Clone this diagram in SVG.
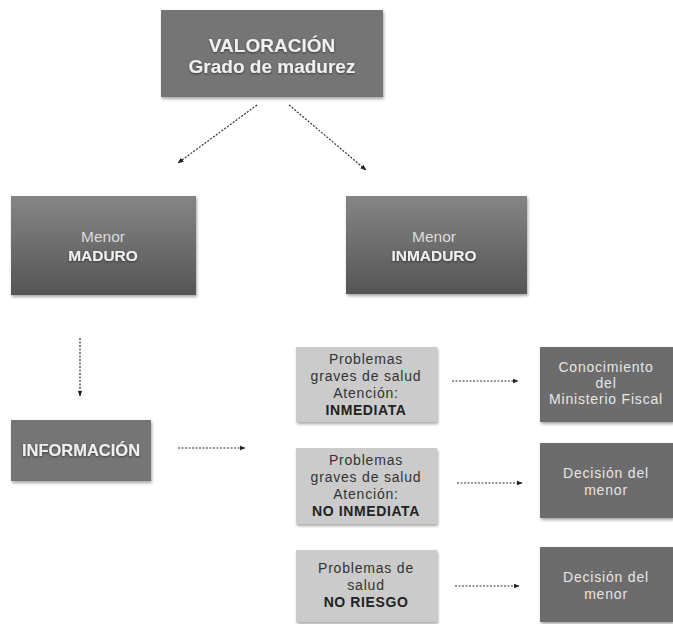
<svg xmlns="http://www.w3.org/2000/svg" width="673" height="624" viewBox="0 0 673 624">
<defs>
<linearGradient id="gmid" x1="0" y1="0" x2="0" y2="1">
<stop offset="0" stop-color="#858585"/>
<stop offset="1" stop-color="#555555"/>
</linearGradient>
<filter id="sh" x="-10%" y="-10%" width="125%" height="130%">
<feDropShadow dx="1" dy="2" stdDeviation="1.5" flood-color="#000" flood-opacity="0.35"/>
</filter>
<filter id="tsh" x="-10%" y="-30%" width="120%" height="160%">
<feDropShadow dx="0" dy="1" stdDeviation="0.8" flood-color="#000" flood-opacity="0.5"/>
</filter>
<marker id="ah" viewBox="0 0 10 10" refX="9" refY="5" markerWidth="6" markerHeight="6" orient="auto" markerUnits="userSpaceOnUse">
<path d="M0,1 L10,5 L0,9 z" fill="#222"/>
</marker>
<style>
.dark{fill:#757575;filter:url(#sh)}
.dark2{fill:#6c6c6c;filter:url(#sh)}
.grad{fill:url(#gmid);filter:url(#sh)}
.light{fill:#cbcbcb;filter:url(#sh)}
text{font-family:"Liberation Sans",Arial,sans-serif;text-anchor:middle}
.wt{fill:#f0f0f0;font-weight:bold;filter:url(#tsh)}
.lt{fill:#e6e6e6;font-size:14px;letter-spacing:0.8px}
.kt{fill:#333;font-size:14px;letter-spacing:0.8px}
.kb{fill:#222;font-size:14px;letter-spacing:0.6px;font-weight:bold}
.con{stroke:#333;stroke-width:1.2;stroke-dasharray:2 1.5;fill:none;marker-end:url(#ah)}
</style>
</defs>
<g id="valoracion">
<rect class="dark" x="161" y="10" width="222" height="87"/>
<text class="wt" x="272" y="52" font-size="19">VALORACIÓN</text>
<text class="wt" x="272" y="73" font-size="19">Grado de madurez</text>
</g>
<g id="maduro">
<rect class="grad" x="11" y="196" width="185" height="99"/>
<text x="103" y="242" fill="#dcdcdc" font-size="15.5">Menor</text>
<text class="wt" x="103" y="261" font-size="15.5">MADURO</text>
</g>
<g id="inmaduro">
<rect class="grad" x="346" y="196" width="181" height="98"/>
<text x="434" y="242" fill="#dcdcdc" font-size="15.5">Menor</text>
<text class="wt" x="434" y="261" font-size="15.5">INMADURO</text>
</g>
<g id="informacion">
<rect class="dark" x="11" y="420" width="140" height="61"/>
<text class="wt" x="81" y="456" font-size="16.5">INFORMACIÓN</text>
</g>
<g id="p1">
<rect class="light" x="296" y="347" width="141" height="75"/>
<text class="kt" x="366" y="364">Problemas</text>
<text class="kt" x="366" y="381">graves de salud</text>
<text class="kt" x="366" y="398">Atención:</text>
<text class="kb" x="366" y="415">INMEDIATA</text>
</g>
<g id="p2">
<rect class="light" x="296" y="448" width="141" height="76"/>
<text class="kt" x="366" y="465">Problemas</text>
<text class="kt" x="366" y="482">graves de salud</text>
<text class="kt" x="366" y="499">Atención:</text>
<text class="kb" x="366" y="516">NO INMEDIATA</text>
</g>
<g id="p3">
<rect class="light" x="296" y="550" width="141" height="72"/>
<text class="kt" x="366" y="573">Problemas de</text>
<text class="kt" x="366" y="590">salud</text>
<text class="kb" x="366" y="607">NO RIESGO</text>
</g>
<g id="r1">
<rect class="dark2" x="540" y="347" width="133" height="75"/>
<text class="lt" x="606" y="372">Conocimiento</text>
<text class="lt" x="606" y="388">del</text>
<text class="lt" x="606" y="404">Ministerio Fiscal</text>
</g>
<g id="r2">
<rect class="dark2" x="540" y="443" width="133" height="75"/>
<text class="lt" x="606" y="478">Decisión del</text>
<text class="lt" x="606" y="495">menor</text>
</g>
<g id="r3">
<rect class="dark2" x="540" y="547" width="133" height="75"/>
<text class="lt" x="606" y="582">Decisión del</text>
<text class="lt" x="606" y="599">menor</text>
</g>
<g id="connectors">
<line class="con" x1="257" y1="105" x2="178" y2="163"/>
<line class="con" x1="289" y1="105" x2="366" y2="170"/>
<line class="con" x1="80" y1="338" x2="80" y2="396"/>
<line class="con" x1="178" y1="448" x2="245" y2="448"/>
<line class="con" x1="452" y1="381" x2="518" y2="381"/>
<line class="con" x1="457" y1="483" x2="522" y2="483"/>
<line class="con" x1="455" y1="586" x2="519" y2="586"/>
</g>
</svg>
